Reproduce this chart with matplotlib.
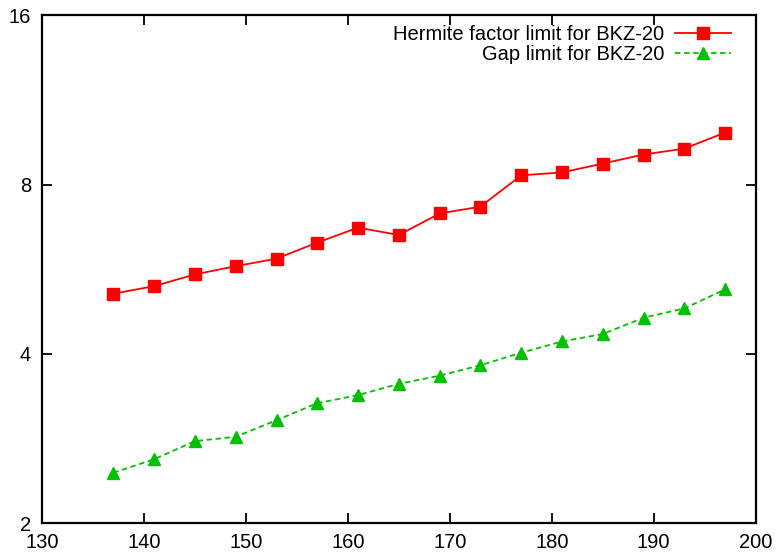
import matplotlib
matplotlib.use("Agg")
import matplotlib.pyplot as plt
from matplotlib.ticker import FixedLocator, NullLocator

plt.rcParams['font.family'] = ['Liberation Sans', 'DejaVu Sans']

dim = [137, 141, 145, 149, 153, 157, 161, 165, 169, 173, 177, 181, 185, 189, 193, 197]
hermite = [5.12, 5.28, 5.54, 5.73, 5.91, 6.31, 6.71, 6.51, 7.11, 7.31,
           8.31, 8.41, 8.72, 9.05, 9.27, 9.90]
gap = [2.46, 2.60, 2.80, 2.85, 3.05, 3.27, 3.38, 3.54, 3.66, 3.82,
       4.02, 4.21, 4.34, 4.64, 4.82, 5.21]

xticks = [130, 140, 150, 160, 170, 180, 190, 200]
yticks = [2, 4, 8, 16]

fig = plt.figure(figsize=(7.78, 5.53), dpi=100)
ax = fig.add_axes([0.054, 0.0537, 0.9173, 0.9186])

ax.plot(dim, hermite, '-', color='#ff0000', lw=1.3, marker='s', ms=9,
        label='Hermite factor limit for BKZ-20')
ax.plot(dim, gap, '--', color='#00c000', lw=1.3, marker='^', ms=9,
        dashes=(3, 2), label='Gap limit for BKZ-20')

ax.set_yscale('log', base=2)
ax.set_xlim(130, 200)
ax.set_ylim(2, 16)
ax.xaxis.set_major_locator(FixedLocator(xticks))
ax.yaxis.set_major_locator(FixedLocator(yticks))
ax.yaxis.set_minor_locator(NullLocator())
ax.set_yticklabels([str(v) for v in yticks])
ax.set_xticklabels([str(v) for v in xticks])

for s in ax.spines.values():
    s.set_linewidth(1.6)
ax.tick_params(direction='in', length=7, width=1.3, top=True, right=True,
               labelsize=14.5)
ax.tick_params(axis='x', pad=7)
ax.tick_params(axis='y', pad=8)

ax.legend(loc='upper right', bbox_to_anchor=(0.9654, 0.981), frameon=False,
          markerfirst=False, fontsize=14.5, handlelength=2.8,
          labelspacing=0.05, borderaxespad=0, borderpad=0, handletextpad=0.5)

fig.savefig('out.png', dpi=100)
